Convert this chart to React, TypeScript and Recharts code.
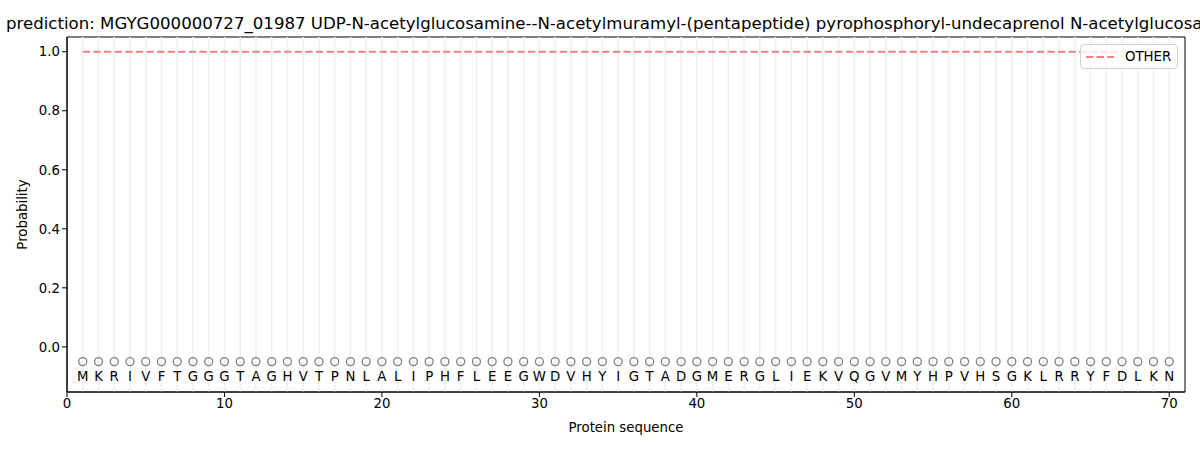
import {
  ComposedChart,
  Line,
  Scatter,
  XAxis,
  YAxis,
  ReferenceLine,
  ReferenceArea,
  Legend,
} from "recharts";

const sequence = "MKRIVFTGGGTAGHVTPNLALIPHFLEEGWDVHYIGTADGMERGLIEKVQGVMYHPVHSGKLRRYFDLKN".split("");
const positions = sequence.map((_, i) => i + 1);
const otherProb = sequence.map(() => 1.0);
const xTicks = [0, 10, 20, 30, 40, 50, 60, 70];
const yTicks = [0, 0.2, 0.4, 0.6, 0.8, 1.0];

const MARKER_Y = -0.05;
const LABEL_Y = -0.1;

const TITLE =
  "prediction: MGYG000000727_01987 UDP-N-acetylglucosamine--N-acetylmuramyl-(pentapeptide) pyrophosphoryl-undecaprenol N-acetylglucosamine transferase";

const rows = positions.map((pos, i) => ({
  pos,
  aa: sequence[i],
  other: otherProb[i],
  marker: MARKER_Y,
  label: LABEL_Y,
}));

const FONT = "'DejaVu Sans', sans-serif";

const Ring = (props: any) => (
  <circle cx={props.cx} cy={props.cy} r={4} fill="none" stroke="#808080" strokeWidth={1.3} />
);

const Letter = (props: any) => (
  <text
    x={props.cx}
    y={props.cy}
    textAnchor="middle"
    dominantBaseline="central"
    fontSize={13.3}
    fontFamily={FONT}
    fill="#000"
  >
    {props.payload.aa}
  </text>
);

const LegendBox = () => (
  <div
    style={{
      border: "1px solid #d0d0d0",
      borderRadius: 4,
      background: "rgba(255,255,255,0.8)",
      height: 25,
      display: "flex",
      alignItems: "center",
      fontFamily: FONT,
      fontSize: 13.3,
      boxSizing: "border-box",
    }}
  >
    <svg width={32} height={10} style={{ marginLeft: 5 }}>
      <line x1={0} y1={5} x2={28} y2={5} stroke="#f47f7f" strokeWidth={2} strokeDasharray="7.4 3.2" />
    </svg>
    <span style={{ marginLeft: 7 }}>OTHER</span>
  </div>
);

export default function App() {
  return (
    <div style={{ position: "fixed", left: 0, top: 0, width: 1200, height: 450, background: "#fff" }}>
      <ComposedChart
        width={1200}
        height={450}
        data={rows}
        margin={{ top: 37, right: 15, bottom: 0, left: 0 }}
      >
        <text x={6} y={29} textAnchor="start" fontSize={16.6} fontFamily={FONT} fill="#000">
          {TITLE}
        </text>
        {positions.map((p) => (
          <ReferenceLine key={p} x={p} stroke="#f0f0f0" strokeWidth={1.5} />
        ))}
        <XAxis
          type="number"
          dataKey="pos"
          domain={[0, 71]}
          ticks={xTicks}
          height={58}
          tickSize={5}
          stroke="#000"
          tick={{ fill: "#000", fontSize: 13.3, fontFamily: FONT }}
          label={{ value: "Protein sequence", position: "insideBottom", offset: 18, fill: "#000", fontSize: 13.3, fontFamily: FONT }}
        />
        <YAxis
          type="number"
          domain={[-0.153, 1.05]}
          ticks={yTicks}
          width={67}
          tickSize={5}
          stroke="#000"
          tickFormatter={(v: number) => v.toFixed(1)}
          tick={{ fill: "#000", fontSize: 13.3, fontFamily: FONT }}
          label={{ value: "Probability", angle: -90, position: "insideLeft", offset: 22, fill: "#000", fontSize: 13.3, fontFamily: FONT, style: { textAnchor: "middle" } }}
        />
        <Line
          dataKey="other"
          stroke="#f47f7f"
          strokeWidth={2}
          strokeDasharray="7.4 3.2"
          dot={false}
          activeDot={false}
          isAnimationActive={false}
        />
        <Scatter dataKey="marker" shape={<Ring />} isAnimationActive={false} />
        <Scatter dataKey="label" shape={<Letter />} isAnimationActive={false} />
        <ReferenceArea x1={0} x2={71} y1={-0.153} y2={1.05} stroke="#000" strokeWidth={1} fill="none" fillOpacity={0} />
        <Legend
          layout="horizontal"
          verticalAlign="middle"
          align="center"
          content={<LegendBox />}
          wrapperStyle={{ top: 44, left: 1080, right: "auto", bottom: "auto", width: 98 }}
        />
      </ComposedChart>
    </div>
  );
}
